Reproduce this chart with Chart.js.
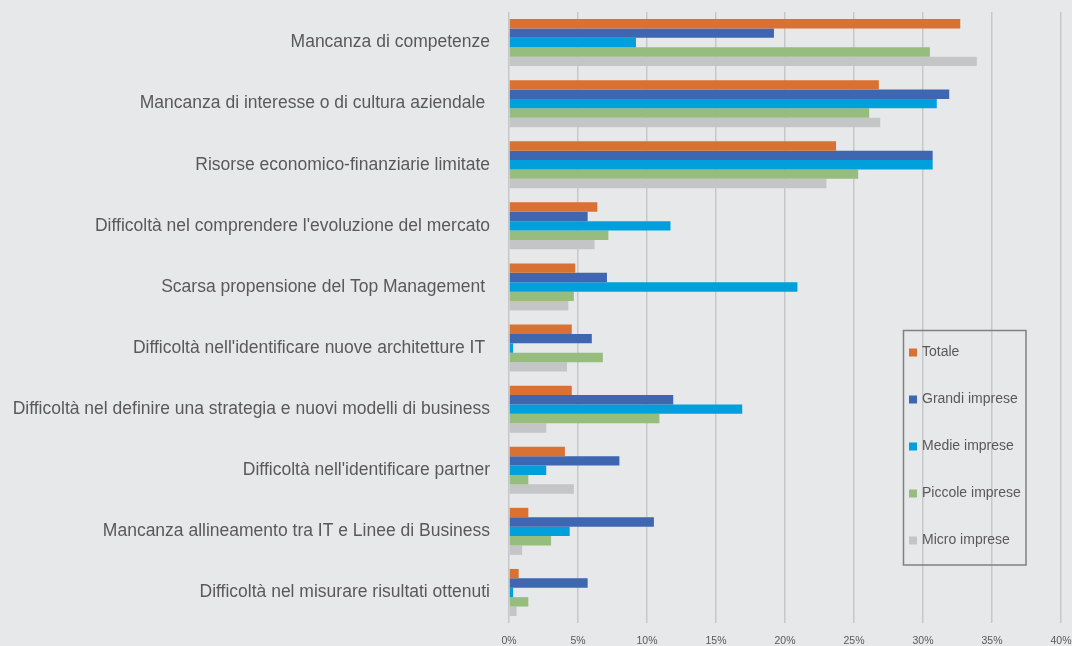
<!DOCTYPE html>
<html>
<head>
<meta charset="utf-8">
<script src="https://cdn.jsdelivr.net/npm/chart.js@4.4.0/dist/chart.umd.min.js"></script>
<style>
html,body{margin:0;padding:0;background:#E7E8EA;}
#wrap{width:1072px;height:646px;position:relative;}
</style>
</head>
<body>
<div id="wrap"><canvas id="c" width="1072" height="646"></canvas></div>
<script>
const categories = [
  "Mancanza di competenze",
  "Mancanza di interesse o di cultura aziendale ",
  "Risorse economico-finanziarie limitate",
  "Difficoltà nel comprendere l'evoluzione del mercato",
  "Scarsa propensione del Top Management ",
  "Difficoltà nell'identificare nuove architetture IT ",
  "Difficoltà nel definire una strategia e nuovi modelli di business",
  "Difficoltà nell'identificare partner",
  "Mancanza allineamento tra IT e Linee di Business",
  "Difficoltà nel misurare risultati ottenuti"
];
const seriesNames = ["Totale", "Grandi imprese", "Medie imprese", "Piccole imprese", "Micro imprese"];
const totale  = [32.7, 26.8, 23.7, 6.4, 4.8, 4.55, 4.55, 4.05, 1.4, 0.7];
const grandi  = [19.2, 31.9, 30.7, 5.7, 7.1, 6.0, 11.9, 8.0, 10.5, 5.7];
const medie   = [9.2, 31.0, 30.7, 11.7, 20.9, 0.3, 16.9, 2.7, 4.4, 0.3];
const piccole = [30.5, 26.1, 25.3, 7.2, 4.7, 6.8, 10.9, 1.4, 3.05, 1.4];
const micro   = [33.9, 26.9, 23.0, 6.2, 4.3, 4.2, 2.7, 4.7, 0.95, 0.55];
const xTicks  = [0, 5, 10, 15, 20, 25, 30, 35, 40];
const colors  = ["#D87131", "#3F66B1", "#019FDB", "#97BD7E", "#C4C5C7"];

const allSeries = [totale, grandi, medie, piccole, micro];

const legendBox = {
  id: 'legendBox',
  afterDraw(chart) {
    const ctx = chart.ctx;
    ctx.save();
    ctx.strokeStyle = '#808080';
    ctx.lineWidth = 1.5;
    ctx.strokeRect(903.5, 330.5, 122.5, 234.5);
    ctx.font = '14px "Liberation Sans", Arial, sans-serif';
    ctx.textBaseline = 'middle';
    chart.data.datasets.forEach((ds, i) => {
      const y = 352.5 + i * 47;
      ctx.fillStyle = ds.backgroundColor;
      ctx.fillRect(909, y - 4, 8, 8);
      ctx.fillStyle = '#595959';
      ctx.fillText(ds.label, 922, y);
    });
    ctx.restore();
  }
};

new Chart(document.getElementById('c'), {
  type: 'bar',
  data: {
    labels: categories,
    datasets: seriesNames.map((n, i) => ({
      label: n,
      data: allSeries[i],
      backgroundColor: colors[i],
      borderWidth: 0,
      barPercentage: 1.0,
      categoryPercentage: 0.77
    }))
  },
  options: {
    indexAxis: 'y',
    responsive: false,
    animation: false,
    layout: { padding: { top: 12, right: 11, left: 0, bottom: 0 } },
    plugins: {
      legend: { display: false },
      tooltip: { enabled: false }
    },
    scales: {
      x: {
        min: 0, max: 40,
        afterBuildTicks(scale) { scale.ticks = xTicks.map(v => ({ value: v })); },
        afterFit(scale) { scale.height = 23; scale.paddingLeft = 0; scale.paddingRight = 0; },
        grid: { color: '#C6C7C9', lineWidth: 1.5, drawTicks: false },
        border: { display: false },
        ticks: {
          padding: 12,
          color: '#595959',
          font: { size: 10.5, family: '"Liberation Sans", Arial, sans-serif' },
          callback: v => v + '%'
        }
      },
      y: {
        afterFit(scale) { scale.width = 509; scale.paddingTop = 0; scale.paddingBottom = 0; },
        grid: { display: false, drawTicks: false },
        border: { display: false },
        ticks: {
          padding: 19,
          color: '#595959',
          font: { size: 17.5, family: '"Liberation Sans", Arial, sans-serif' }
        }
      }
    }
  },
  plugins: [legendBox]
});
</script>
</body>
</html>
